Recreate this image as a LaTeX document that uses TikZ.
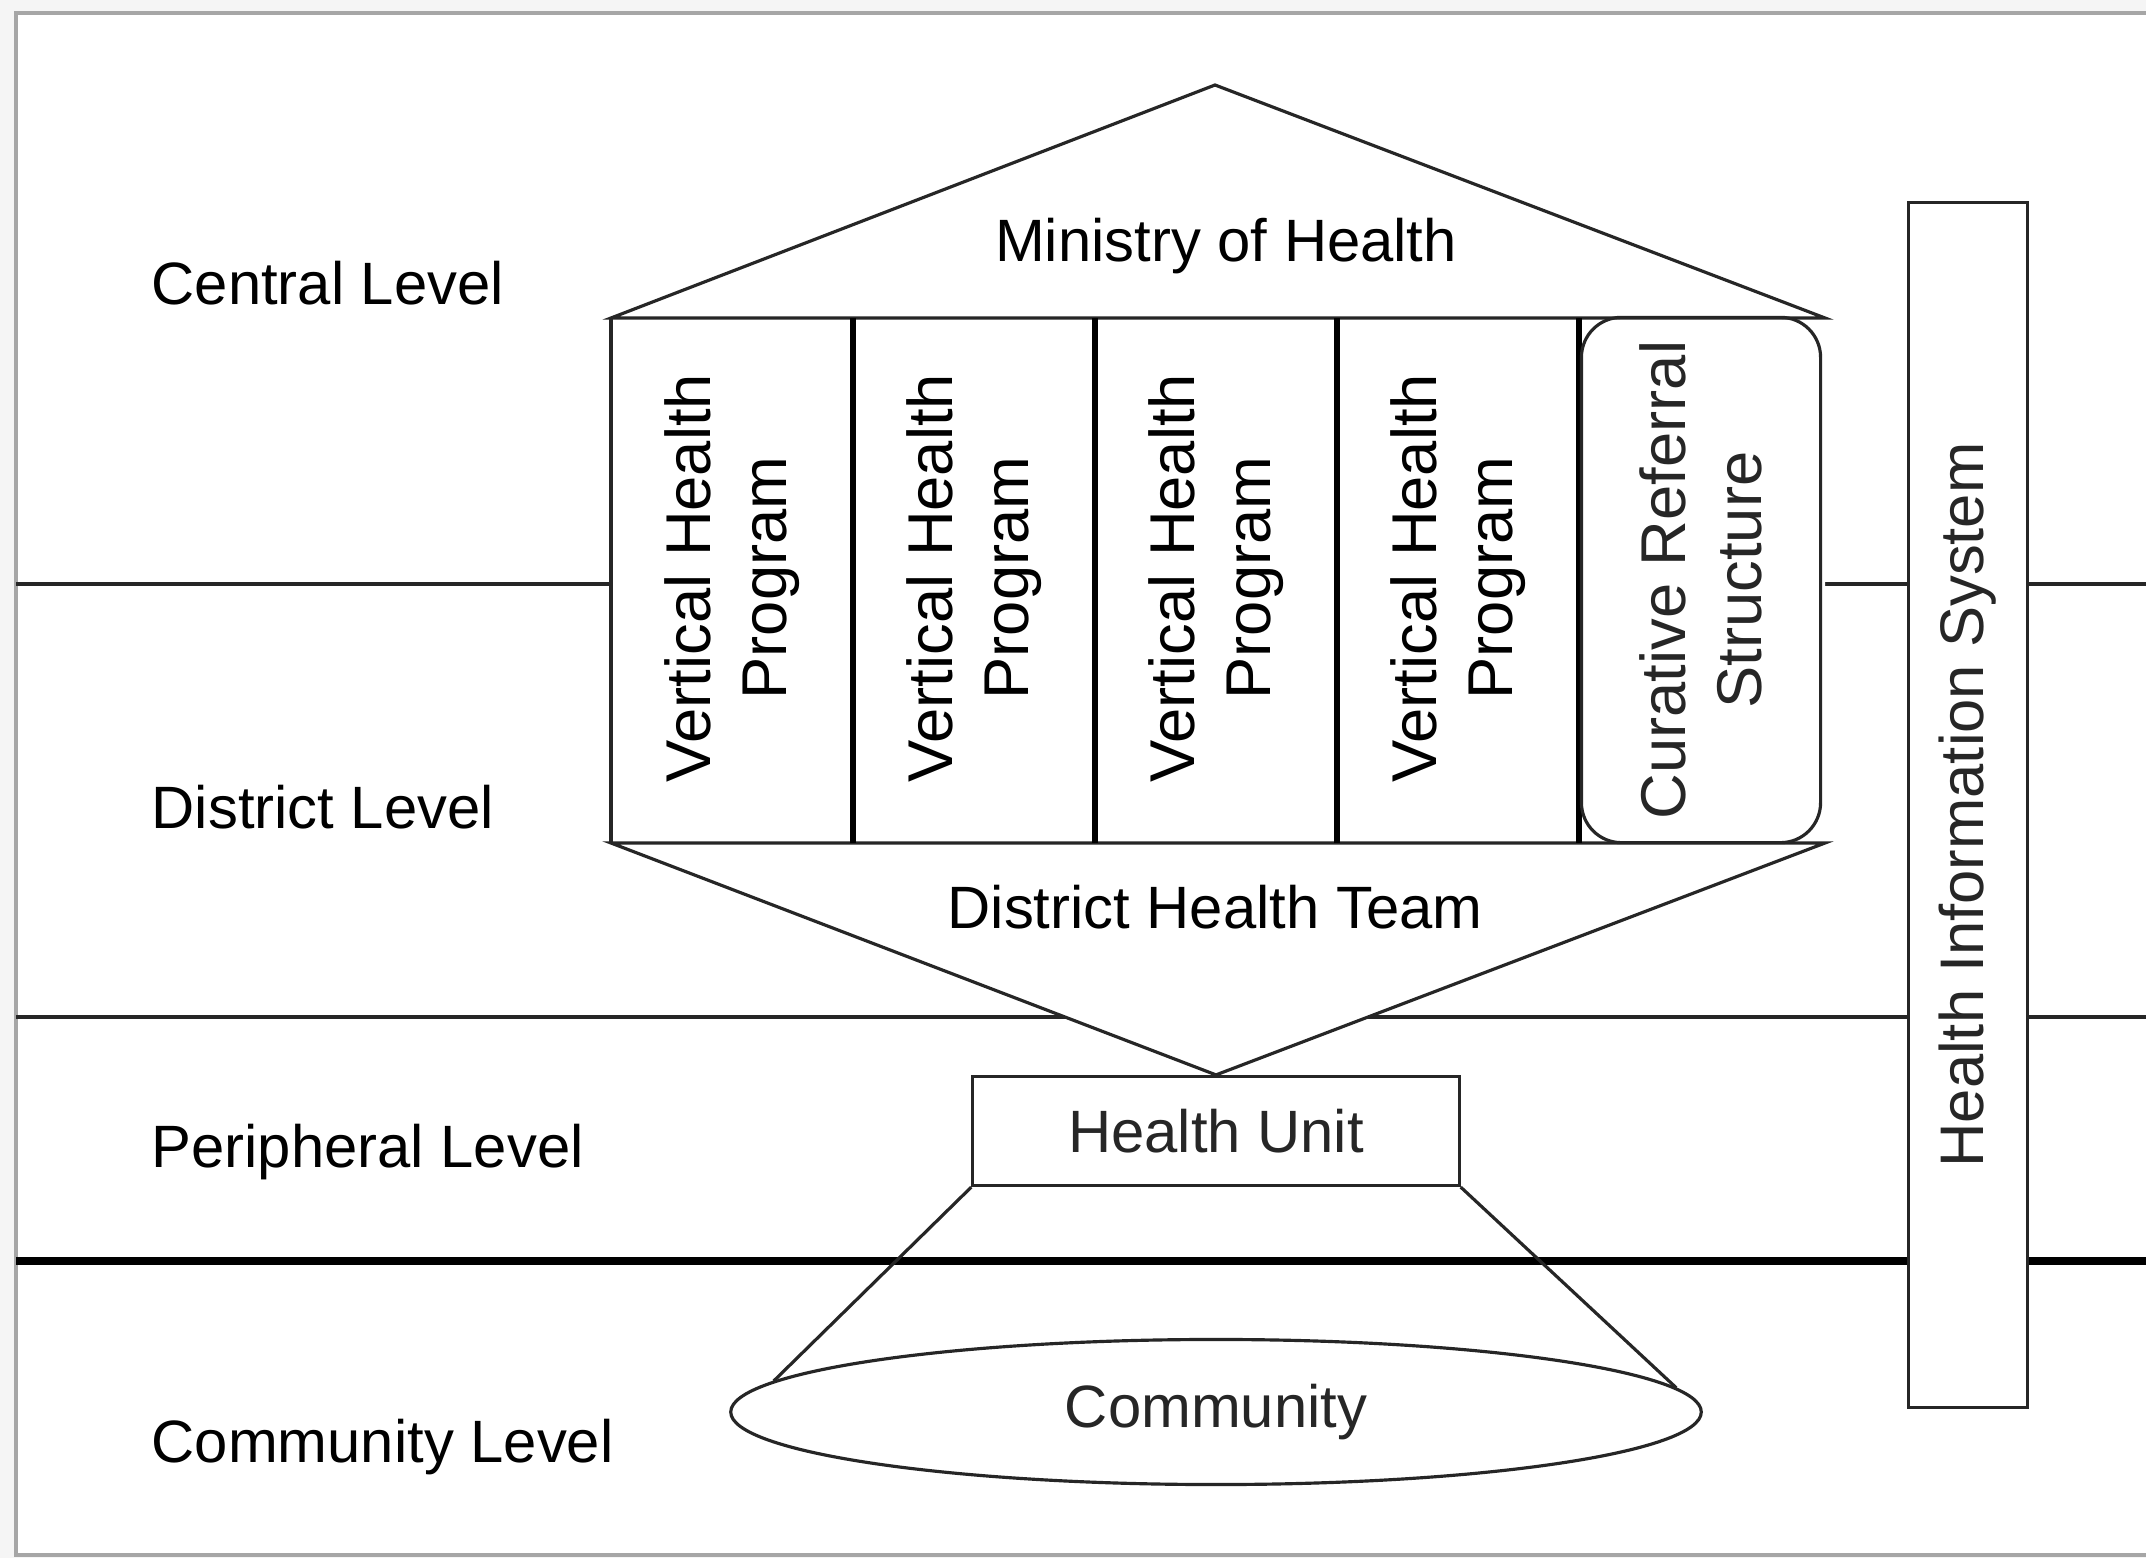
\documentclass[tikz,border=0pt]{standalone}
\usepackage{fontspec}
\setmainfont{Liberation Sans}
\usetikzlibrary{shapes.geometric}

\begin{document}
\begin{tikzpicture}[
    x=0.01cm, y=-0.01cm,
    thinline/.style={line width=0.9pt, black!85},
    thickline/.style={line width=2pt, black},
    divider/.style={line width=1.5pt, black},
    lvl/.style={anchor=west, inner sep=0pt, font=\fontsize{17}{20}\selectfont},
    txt/.style={inner sep=0pt, font=\fontsize{17}{20}\selectfont},
    vtxt/.style={rotate=90, align=center, inner sep=0pt, font=\fontsize{18}{21.5}\selectfont},
    vhp/.style={vtxt, minimum width=5.25cm, minimum height=2.42cm},
    unitbox/.style={draw, thinline, fill=white, txt, minimum width=4.86cm, minimum height=1.09cm},
    commell/.style={ellipse, draw, thinline, fill=white, txt, minimum width=9.7cm, minimum height=1.45cm}
]
    % page and frame
    \fill[gray!8] (0,0) rectangle (2146,1558);
    \useasboundingbox (0,0) rectangle (2146,1558);
    \draw[gray!70, line width=1.2pt, fill=white] (16,13) rectangle (2170,1555);

    % level boundaries
    \draw[thinline] (16,584) -- (2146,584);
    \draw[thinline] (16,1017) -- (2146,1017);
    \draw[thickline] (16,1261) -- (2146,1261);

    % level names
    \node[lvl] (central) at (151,283) {Central Level};
    \node[lvl] (district) at (151,807) {District Level};
    \node[lvl] (peripheral) at (151,1152) {Peripheral Level};
    \node[lvl] (community) at (151,1447) {Community Level};

    % health information system
    \node[vtxt, draw, thinline, fill=white, font=\fontsize{17.5}{21}\selectfont,
          minimum width=12.04cm, minimum height=1.19cm] (his) at (1968,805) {Health Information System};

    % ministry and district health team
    \node[unitbox] (hu) at (1216,1131) {Health Unit};
    \coordinate (blkNW) at (611,318);
    \coordinate (blkNE) at (1825,318);
    \coordinate (blkSW) at (611,843);
    \coordinate (blkSE) at (1825,843);
    \coordinate (apex) at (1215,85);
    \fill[white] (blkNW) -- (apex) -- (blkNE) -- (blkSE) -- (hu.north) -- (blkSW) -- cycle;
    \draw[thinline] (blkNW) -- (apex) -- (blkNE) -- cycle;
    \draw[thinline] (blkSW) -- (hu.north) -- (blkSE) -- cycle;
    \draw[thinline] (blkNW) -- (blkSW);
    \node[txt] (moh) at (1226,246) {Ministry of Health};
    \node[txt] (dht) at (1215,907) {District Health Team};

    % programs
    \foreach \i in {1,...,4} {
        \node[vhp] (vhp\i) at (611+242*\i-121,578) {Vertical Health\\Program};
        \draw[divider] (611+242*\i,318) -- (611+242*\i,843);
    }
    \node[vtxt, draw, thinline, rounded corners=0.4cm, minimum width=5.25cm, minimum height=2.39cm] (crs) at (1701,580) {Curative Referral\\Structure};

    % community
    \node[commell] (comm) at (1216,1412) {Community};
    \draw[thinline] (hu.south west) -- (comm.176);
    \draw[thinline] (hu.south east) -- (comm.3);
\end{tikzpicture}
\end{document}
